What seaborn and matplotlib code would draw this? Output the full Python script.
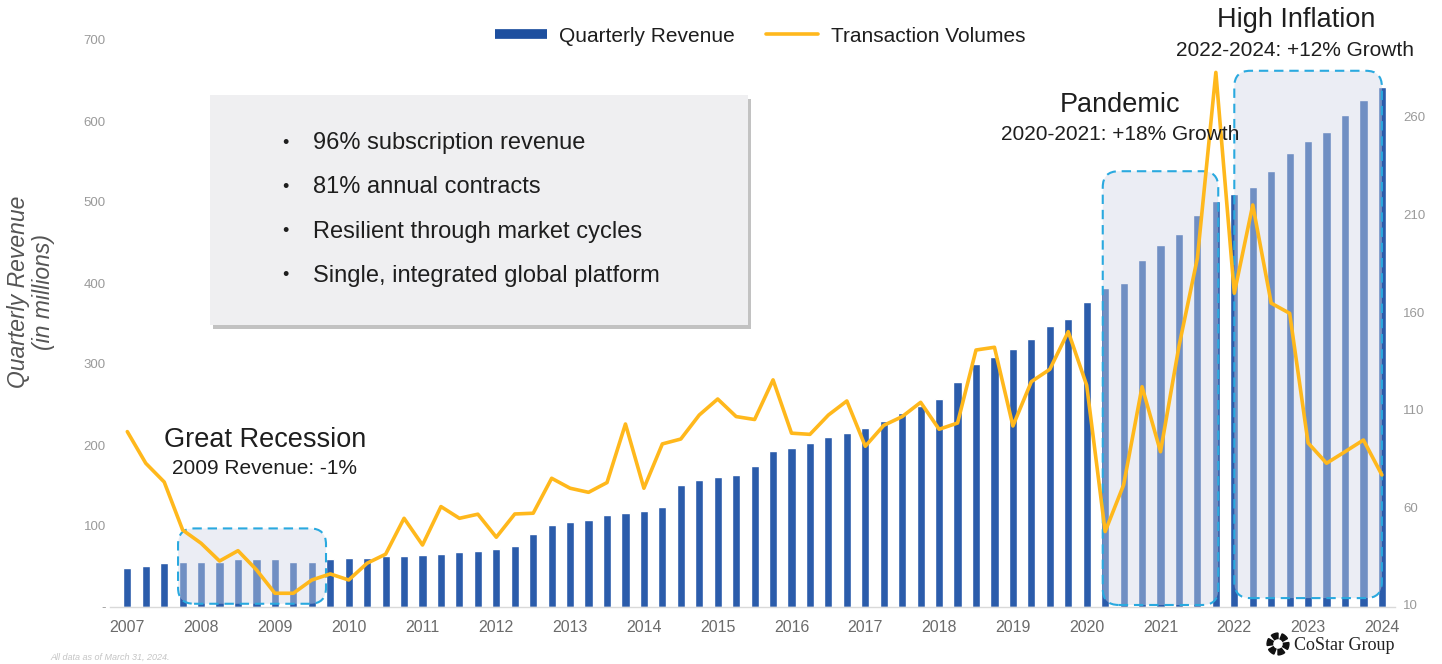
import numpy as np
import pandas as pd
import matplotlib
matplotlib.use("Agg")
import matplotlib.pyplot as plt
import seaborn as sns
from matplotlib.patches import FancyBboxPatch, Wedge
from matplotlib.lines import Line2D
from matplotlib.transforms import IdentityTransform
import matplotlib.ticker as mticker

# ---------------- data ----------------
years = [str(y) for y in range(2007, 2025)]

quarterly_revenue = [
    48, 51, 54, 55, 56, 56, 59, 59, 59, 56, 56, 59,
    60.5, 61, 63, 63, 64, 65, 68, 69.5, 72, 75, 90, 101,
    105, 108, 113, 116, 119, 123, 151, 157, 160, 163, 174, 193,
    196, 203, 210, 215, 221, 230, 240, 248, 257, 278, 300, 309,
    318, 331, 347, 356, 377, 394, 400, 428, 447, 460, 484, 501,
    510, 518, 538, 560, 575, 587, 608, 626, 642,
]

transaction_volumes = [
    98.8, 82.6, 73, 48.4, 41.6, 32.5, 37.8, 28, 16, 16, 22.8, 25.9,
    22.8, 31.4, 36, 54.4, 40.7, 60.4, 54.4, 56.5, 44.7, 56.6, 57, 74.9,
    69.8, 67.7, 72.7, 102.7, 69.8, 92.5, 95, 107.3, 115.5, 106.5, 105, 125.3,
    98, 97.4, 107.3, 114.5, 91.3, 102, 106.5, 113.8, 100, 103.2, 140.6, 142,
    101.7, 124.4, 130.7, 150, 122.5, 47.6, 71.5, 121.8, 88.5, 142.5, 187.7, 282.8,
    169.7, 214.9, 164.6, 159.4, 93, 82.6, 88.5, 94.5, 76.6,
]

left_ticks = [0, 100, 200, 300, 400, 500, 600, 700]
right_ticks = [10, 60, 110, 160, 210, 260]

bullet_points = [
    "96% subscription revenue",
    "81% annual contracts",
    "Resilient through market cycles",
    "Single, integrated global platform",
]

# highlighted periods: (first quarter idx, last quarter idx, top revenue value, bottom value)
period_boxes = [
    (2.75, 10.77, 97, 4),
    (52.87, 59.13, 538, 2.5),
    (60.0, 68.0, 662, 11),
]

period_titles = ["Great Recession", "Pandemic", "High Inflation"]
period_subtitles = ["2009 Revenue: -1%", "2020-2021: +18% Growth", "2022-2024: +12% Growth"]

df = pd.DataFrame({
    "q": np.arange(len(quarterly_revenue)),
    "revenue": quarterly_revenue,
    "volume": transaction_volumes,
})

# ---------------- style ----------------
sns.set_theme(style="white")
plt.rcParams["font.family"] = ["Liberation Sans", "DejaVu Sans"]

W, H = 1442, 664
fig = plt.figure(figsize=(W / 100, H / 100), dpi=100)
fig.patch.set_facecolor("white")

def fx(px):
    return px / W

def fy(py):
    return 1 - py / H

ax = fig.add_axes([fx(110), fy(607), (1395 - 110) / W, (607 - 40) / H])

BAR = "#2b5cab"
GOLD = "#ffb81c"

sns.barplot(data=df, x="q", y="revenue", ax=ax, color=BAR, width=0.44,
            saturation=1, zorder=2)
ax.set_xlim(-0.938, 68.71)
ax.set_ylim(0, 700)

ax2 = ax.twinx()
sns.lineplot(data=df, x="q", y="volume", ax=ax2, color=GOLD, lw=2.6, zorder=5)
ax2.set_ylim(8.96, 299.4)
ax2.set_xlim(-0.938, 68.71)

# ticks
ax.set_xticks(np.arange(0, len(quarterly_revenue), 4))
ax.set_xticklabels(years)
ax.tick_params(axis="x", length=0, pad=9, labelsize=11.5, labelcolor="#6b6b6b")
ax.set_yticks(left_ticks)
ax.yaxis.set_major_formatter(mticker.FuncFormatter(lambda v, p: "-" if v == 0 else f"{v:.0f}"))
ax.tick_params(axis="y", length=0, pad=3, labelsize=9.5, labelcolor="#9a9a9a")
ax2.set_yticks(right_ticks)
ax2.tick_params(axis="y", length=0, pad=6, labelsize=9.5, labelcolor="#9a9a9a")
ax.set_xlabel("")
ax.set_ylabel("")
ax2.set_ylabel("")
ax2.set_xlabel("")

for a in (ax, ax2):
    for s in a.spines.values():
        s.set_visible(False)
ax.spines["bottom"].set_visible(True)
ax.spines["bottom"].set_color("#d9d9d9")
ax.spines["bottom"].set_linewidth(1)

# highlighted period boxes
for (x0, x1, ytop, ybot) in period_boxes:
    p0 = ax.transData.transform((x0, ybot))
    p1 = ax.transData.transform((x1, ytop))
    box = FancyBboxPatch((p0[0], p0[1]), p1[0] - p0[0], p1[1] - p0[1],
                         boxstyle="round,pad=0,rounding_size=16",
                         transform=IdentityTransform(),
                         facecolor=(0.82, 0.84, 0.90, 0.42),
                         edgecolor="#2aa9df", linewidth=1.5,
                         linestyle=(0, (4.5, 2.8)), zorder=3)
    ax.add_artist(box)

# period annotations
title_pos = [(265, 440), (1120, 105), (1296, 20)]
sub_pos = [(265, 468), (1120, 135), (1295, 50)]
for t, (x, y) in zip(period_titles, title_pos):
    fig.text(fx(x), fy(y), t, ha="center", va="center", fontsize=19.5, color="#1e1e1e")
for t, (x, y) in zip(period_subtitles, sub_pos):
    fig.text(fx(x), fy(y), t, ha="center", va="center", fontsize=15, color="#1e1e1e")

# y label
fig.text(fx(31), fy(292), "Quarterly Revenue\n(in millions)", rotation=90,
         ha="center", va="center", multialignment="center",
         fontsize=16.5, style="italic", color="#555555", linespacing=1.1)

# legend
handles = [
    Line2D([0], [0], color="#1d4f9f", lw=7, solid_capstyle="butt"),
    Line2D([0], [0], color=GOLD, lw=2.6),
]
fig.legend(handles, ["Quarterly Revenue", "Transaction Volumes"],
           loc="center", bbox_to_anchor=(fx(760), fy(36)), ncol=2,
           frameon=False, fontsize=15, handlelength=2.5, columnspacing=1.5,
           handletextpad=0.6, labelcolor="#1e1e1e")

# bullet text box with shadow
shadow = FancyBboxPatch((210 + 3, H - 325 - 4), 538, 230, boxstyle="square,pad=0",
                        transform=IdentityTransform(), facecolor="#c2c2c2",
                        edgecolor="none", zorder=6)
panel = FancyBboxPatch((210, H - 325), 538, 230, boxstyle="square,pad=0",
                       transform=IdentityTransform(), facecolor="#efeff1",
                       edgecolor="none", zorder=7)
fig.add_artist(shadow)
fig.add_artist(panel)
for i, b in enumerate(bullet_points):
    yy = 143 + i * 44.3
    fig.text(fx(285), fy(yy), "\u2022", ha="center", va="center", fontsize=13,
             color="#1e1e1e", zorder=8)
    fig.text(fx(313), fy(yy), b, ha="left", va="center", fontsize=17,
             color="#1e1e1e", zorder=8)

# footnote
fig.text(fx(50), fy(657), "All data as of March 31, 2024.", ha="left", va="center",
         fontsize=6.5, style="italic", color="#c4c4c4")

# logo
lax = fig.add_axes([fx(1266), fy(656), 24 / W, 24 / H])
lax.set_xlim(-1.1, 1.1)
lax.set_ylim(-1.1, 1.1)
lax.set_aspect("equal")
lax.axis("off")
for k in range(6):
    th = 90 + k * 60
    lax.add_patch(Wedge((0, 0), 1.0, th, th + 38, width=0.5, color="#111111"))
fig.text(fx(1294), fy(646), "CoStar Group", ha="left", va="center",
         fontsize=13, family=["Liberation Serif", "DejaVu Serif"], color="#222222")

fig.savefig("out.png", dpi=100, facecolor="white")
